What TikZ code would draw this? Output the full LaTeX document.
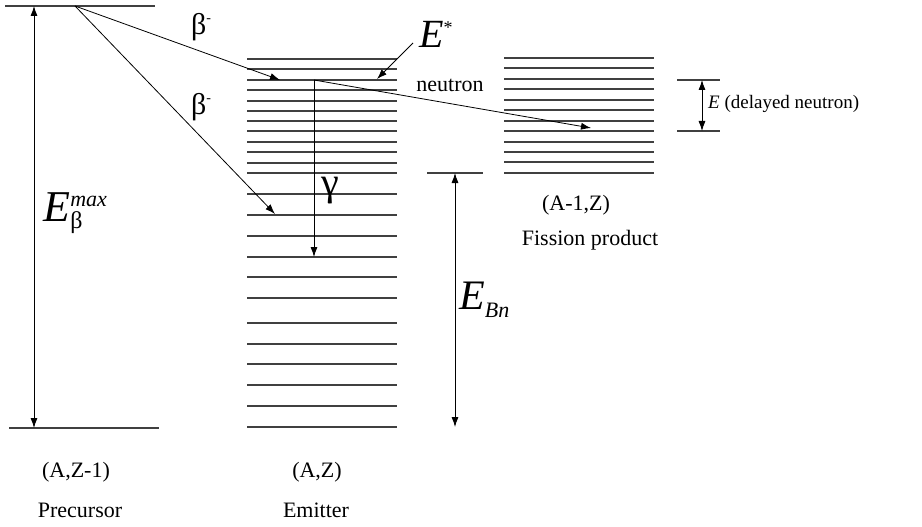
\documentclass[tikz,border=0pt]{standalone}
\usepackage{fontspec}
\setmainfont{Liberation Serif}
\usetikzlibrary{arrows.meta}
\newcommand{\fsz}[1]{\fontsize{#1}{#1}\selectfont}
% symbol with a superscript and a subscript
\newcommand{\supsub}[4]{{\fsz{#1}\itshape E}\rlap{\raisebox{#2}{#3}}#4}

\begin{document}
\begin{tikzpicture}[x=1pt, y=-1pt,
        level/.style={line width=1.2pt, black!75},
        trans/.style={-{Latex[length=10pt, width=7pt]}, line width=0.8pt},
        span/.style={{Latex[length=10pt, width=7pt]}-{Latex[length=10pt, width=7pt]}, line width=0.8pt},
        lbl/.style={font=\fsz{22}, inner sep=0pt},
        greek/.style={font=\fsz{30}, inner sep=0pt}
    ]
    \useasboundingbox (0,0) rectangle (922,527);

    % PRECURSOR
    \draw[level] (5,6) -- (155,6);
    \draw[level] (9,428) -- (159,428);
    \coordinate (pre top) at (34,6);
    \coordinate (pre bot) at (34,428);
    \coordinate (pre src) at (75,6);
    \draw[span] (pre top) -- (pre bot);
    \node (emax) at (63,213) {\supsub{44}{15pt}{\fsz{22}\itshape max}{\raisebox{-7pt}{\fsz{24}β}}};
    \node[lbl] (prename) at (76,472) {(A,Z-1)};
    \node[lbl] (pre) at (80,510) {Precursor};

    % EMITTER
    \foreach \y in {59,69,80,90,101,111,121,131,142,152,163,173,
                    194,215,236,257,277,298,323,344,364,385,406,427}
        \draw[level] (247,\y) -- (397,\y);
    \coordinate (em hi) at (280,80);
    \coordinate (em lo) at (275,214);
    \coordinate (em g) at (314,80);
    \coordinate (em gbot) at (314,257);
    \draw[trans] (pre src) -- (em hi);
    \draw[trans] (pre src) -- (em lo);
    \draw[trans] (em g) -- (em gbot);
    \node[greek] (b1) at (201,27) {β\raisebox{12pt}{\fsz{14}-}};
    \node[greek] (b2) at (201,107) {β\raisebox{12pt}{\fsz{14}-}};
    \node[font=\fsz{40}, inner sep=0pt] (gam) at (330,191) {γ};
    \node[inner sep=0pt] (estar) at (436,34) {{\fsz{40}\itshape E}\raisebox{14pt}{\fsz{18}*}};
    \coordinate (estar tail) at (413,43);
    \coordinate (estar tip) at (377,79);
    \draw[trans] (estar tail) -- (estar tip);
    \node[lbl] (neu) at (450,85) {neutron};
    \node[lbl] (emname) at (317,472) {(A,Z)};
    \node[lbl] (em) at (316,510) {Emitter};

    % FISSION PRODUCT
    \foreach \y in {58,68,79,89,100,110,121,131,142,152,162,173}
        \draw[level] (504,\y) -- (654,\y);
    \coordinate (fp tip) at (591,128);
    \draw[trans] (em g) -- (fp tip);
    \node[lbl] (fpname) at (576,205) {(A-1,Z)};
    \node[lbl] (fp) at (590,240) {Fission product};

    % DELAYED NEUTRON ENERGY
    \draw[level] (677,80) -- (720,80);
    \draw[level] (677,131) -- (720,131);
    \coordinate (dn top) at (702,80);
    \coordinate (dn bot) at (702,131);
    \draw[span] (dn top) -- (dn bot);
    \node[lbl, anchor=west, font=\fsz{19}] (dn) at (708,104) {\textit{E} (delayed neutron)};

    % BINDING ENERGY
    \draw[level] (427,173) -- (483,173);
    \coordinate (bn top) at (455,173);
    \coordinate (bn bot) at (455,427);
    \draw[span] (bn top) -- (bn bot);
    \node[anchor=west, inner sep=0pt] (ebn) at (459,300) {{\fsz{42}\itshape E}\raisebox{-8pt}{\fsz{22}\itshape Bn}};

\end{tikzpicture}
\end{document}
